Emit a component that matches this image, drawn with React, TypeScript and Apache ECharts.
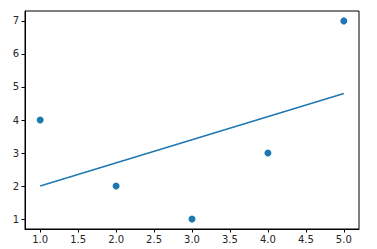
import React, { useEffect, useRef } from "react";
import * as echarts from "echarts";

const pointsX = [1, 2, 3, 4, 5];
const pointsY = [4, 2, 1, 3, 7];
const fitX = [1, 5];
const fitY = [2.0, 4.8];
const xTicks = [1, 1.5, 2, 2.5, 3, 3.5, 4, 4.5, 5];
const yTicks = [1, 2, 3, 4, 5, 6, 7];

export default function App() {
  const ref = useRef<HTMLDivElement>(null);
  useEffect(() => {
    if (!ref.current) return;
    const chart = echarts.init(ref.current, null, { renderer: "svg" });
    const font = "DejaVu Sans";
    const axisCommon = {
      axisLine: { show: true, onZero: false, lineStyle: { color: "#000", width: 1 } },
      axisTick: { show: true, inside: false, length: 3.5, lineStyle: { color: "#000", width: 1 } },
      splitLine: { show: false },
    };
    chart.setOption({
      animation: false,
      grid: { left: 25, top: 11, right: 18, bottom: 20, show: true, borderColor: "#000", borderWidth: 1, backgroundColor: "transparent" },
      xAxis: {
        type: "value",
        min: 0.8,
        max: 5.2,
        ...axisCommon,
        axisTick: { ...axisCommon.axisTick, customValues: xTicks },
        axisLabel: {
          customValues: xTicks,
          formatter: (v: number) => v.toFixed(1),
          fontFamily: font,
          fontSize: 10,
          color: "#262626",
          margin: 5,
        },
      },
      yAxis: {
        type: "value",
        min: 0.7,
        max: 7.3,
        ...axisCommon,
        axisTick: { ...axisCommon.axisTick, customValues: yTicks },
        axisLabel: {
          customValues: yTicks,
          formatter: (v: number) => String(v),
          fontFamily: font,
          fontSize: 10,
          color: "#262626",
          margin: 6,
        },
      },
      series: [
        {
          type: "line",
          data: fitX.map((x, i) => [x, fitY[i]]),
          showSymbol: false,
          lineStyle: { color: "#1f77b4", width: 1.5 },
          z: 2,
        },
        {
          type: "scatter",
          data: pointsX.map((x, i) => [x, pointsY[i]]),
          symbol: "circle",
          symbolSize: 7,
          itemStyle: { color: "#1f77b4", opacity: 1 },
          z: 3,
        },
      ],
    });
    return () => chart.dispose();
  }, []);
  return <div ref={ref} style={{ width: 377, height: 249, position: "absolute", left: 0, top: 0 }} />;
}
